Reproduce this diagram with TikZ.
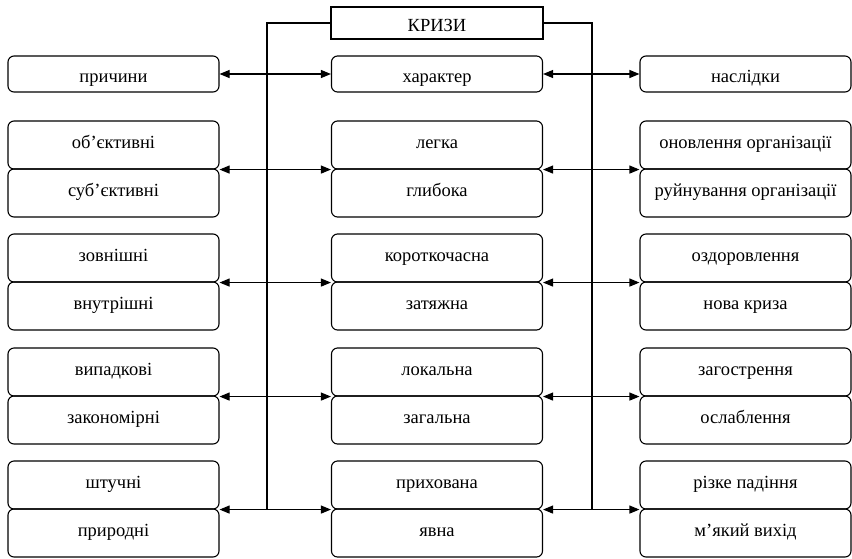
\documentclass[tikz,border=0pt]{standalone}
\usepackage{fontspec}
\setmainfont{Liberation Serif}
\usetikzlibrary{arrows.meta}
\begin{document}
\begin{tikzpicture}[x=1pt,y=-1pt,
  line width=1.1pt,
  every node/.style={font=\fontsize{18.5}{22}\selectfont, inner sep=0pt},
  item/.style={draw, rounded corners=6pt, minimum width=211pt},
  single/.style={item, minimum height=36pt, text height=20pt, text depth=4pt},
  half/.style={item, minimum height=48pt, text height=11pt, text depth=5pt},
  title/.style={draw, minimum width=212pt, minimum height=32pt, text height=21pt, text depth=4pt},
  link/.style={{Triangle[length=10pt,width=8pt]}-{Triangle[length=10pt,width=8pt]}}]
\useasboundingbox (0,0) rectangle (852,558);

% headline
\node[title] (k) at (437,23) {КРИЗИ};

% first row
\node[single] (a1) at (113.5,74) {причини};
\node[single] (b1) at (437,74) {характер};
\node[single] (c1) at (745.5,74) {наслідки};

% paired rows: top box and bottom box share an edge
\foreach \n/\y/\la/\lb/\ma/\mb/\ra/\rb in {
  2/169/об’єктивні/суб’єктивні/легка/глибока/оновлення організації/руйнування організації,
  3/282/зовнішні/внутрішні/короткочасна/затяжна/оздоровлення/нова криза,
  4/396/випадкові/закономірні/локальна/загальна/загострення/ослаблення,
  5/509/штучні/природні/прихована/явна/різке падіння/м’який вихід}{
  \node[half] (a\n t) at (113.5,\y-24) {\la};
  \node[half] (a\n b) at (113.5,\y+24) {\lb};
  \node[half] (b\n t) at (437,\y-24) {\ma};
  \node[half] (b\n b) at (437,\y+24) {\mb};
  \node[half] (c\n t) at (745.5,\y-24) {\ra};
  \node[half] (c\n b) at (745.5,\y+24) {\rb};
}

% branches from the headline
\coordinate (lj) at (267,509);
\coordinate (rj) at (592,509);
\draw (k.west) -| (lj);
\draw (k.east) -| (rj);

% two-way links
\draw[link] (a1.east) -- (b1.west);
\draw[link] (b1.east) -- (c1.west);
\foreach \n in {2,3,4,5}{
  \draw[link] (a\n t.south east) -- (b\n t.south west);
  \draw[link] (b\n t.south east) -- (c\n t.south west);
}
\end{tikzpicture}
\end{document}
